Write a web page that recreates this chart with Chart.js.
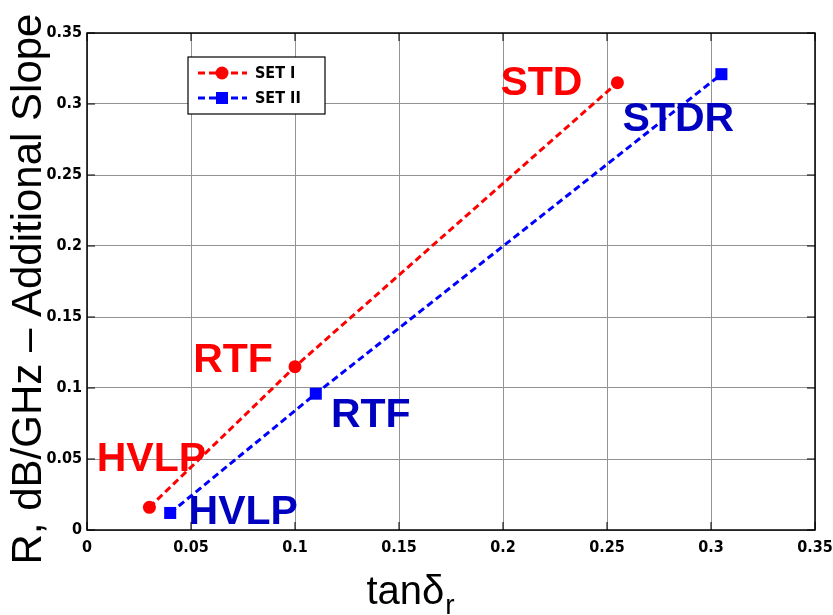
<!DOCTYPE html>
<html>
<head>
<meta charset="utf-8">
<script src="https://cdn.jsdelivr.net/npm/chart.js@4.4.1/dist/chart.umd.min.js"></script>
<style>
  html, body { margin: 0; padding: 0; background: #fff; }
  #wrap { width: 833px; height: 615px; }
</style>
</head>
<body>
<div id="wrap"><canvas id="slopeChart" width="833" height="615"></canvas></div>
<script>
// loss tangent vs additional slope, two copper sets
var set1Names = ['HVLP', 'RTF', 'STD'];
var set1Tan   = [0.03, 0.10, 0.255];
var set1Slope = [0.016, 0.115, 0.315];

var set2Names = ['HVLP', 'RTF', 'STDR'];
var set2Tan   = [0.04, 0.11, 0.305];
var set2Slope = [0.012, 0.096, 0.321];

var xTicks = [0, 0.05, 0.1, 0.15, 0.2, 0.25, 0.3, 0.35];
var yTicks = [0, 0.05, 0.1, 0.15, 0.2, 0.25, 0.3, 0.35];

var RED = '#ff0000';
var BLUE = '#0000ff';
var tickFont = "'Liberation Sans Narrow', 'DejaVu Sans Condensed', sans-serif";

function toPoints(xs, ys) {
    var pts = [];
    for (var i = 0; i < xs.length; i++) pts.push({x: xs[i], y: ys[i]});
    return pts;
}

function fmt(v) { return String(+v.toFixed(2)); }

// where each name sits, relative to its marker (text centre, px)
var nameOffsets = [
    [[2, -48], [-62, -6], [-76, 1]],
    [[73, 0], [55, 22], [-43, 46]]
];
var nameColors = ['#ff0000', '#0000c0'];

var pointNames = {
    id: 'pointNames',
    afterDatasetsDraw: function(chart) {
        var ctx = chart.ctx;
        var lists = [set1Names, set2Names];
        ctx.save();
        ctx.font = "bold 41px 'Liberation Sans', Arial, sans-serif";
        ctx.textBaseline = 'middle';
        ctx.textAlign = 'center';
        for (var d = 0; d < 2; d++) {
            var meta = chart.getDatasetMeta(d);
            ctx.fillStyle = nameColors[d];
            for (var i = 0; i < meta.data.length; i++) {
                var p = meta.data[i];
                ctx.fillText(lists[d][i], p.x + nameOffsets[d][i][0], p.y + nameOffsets[d][i][1]);
            }
        }
        ctx.restore();
    }
};

// frame, inward ticks, legend box and axis titles
var frameAndLegend = {
    id: 'frameAndLegend',
    afterDraw: function(chart) {
        var ctx = chart.ctx;
        var a = chart.chartArea;
        var xs = chart.scales.x, ys = chart.scales.y;
        ctx.save();

        ctx.strokeStyle = '#000';
        ctx.lineWidth = 1.5;
        ctx.strokeRect(a.left, a.top, a.right - a.left, a.bottom - a.top);

        ctx.lineWidth = 1;
        ctx.beginPath();
        xTicks.forEach(function(t) {
            var px = xs.getPixelForValue(t);
            ctx.moveTo(px, a.bottom); ctx.lineTo(px, a.bottom - 8);
            ctx.moveTo(px, a.top); ctx.lineTo(px, a.top + 8);
        });
        yTicks.forEach(function(t) {
            var py = ys.getPixelForValue(t);
            ctx.moveTo(a.left, py); ctx.lineTo(a.left + 8, py);
            ctx.moveTo(a.right, py); ctx.lineTo(a.right - 8, py);
        });
        ctx.stroke();

        // legend
        var lx = 188, ly = 57, lw = 137, lh = 57;
        ctx.fillStyle = '#fff';
        ctx.fillRect(lx, ly, lw, lh);
        ctx.strokeStyle = '#000';
        ctx.lineWidth = 1.2;
        ctx.strokeRect(lx, ly, lw, lh);

        var entries = [
            {label: 'SET I', color: RED, style: 'circle', y: ly + 16},
            {label: 'SET II', color: BLUE, style: 'rect', y: ly + 41}
        ];
        entries.forEach(function(e) {
            ctx.strokeStyle = e.color;
            ctx.lineWidth = 3;
            ctx.setLineDash([7, 4]);
            ctx.beginPath();
            ctx.moveTo(lx + 10, e.y);
            ctx.lineTo(lx + 59, e.y);
            ctx.stroke();
            ctx.setLineDash([]);
            ctx.fillStyle = e.color;
            Chart.helpers.drawPoint(ctx, {pointStyle: e.style, radius: e.style === 'rect' ? 8.5 : 6.5, borderWidth: 0}, lx + 34, e.y);
            ctx.fillStyle = '#000';
            ctx.font = 'bold 16px ' + tickFont;
            ctx.textBaseline = 'middle';
            ctx.textAlign = 'left';
            ctx.fillText(e.label, lx + 67, e.y + 1);
        });

        // y title
        ctx.fillStyle = '#000';
        ctx.font = "42px 'Liberation Sans', Arial, sans-serif";
        ctx.textAlign = 'center';
        ctx.textBaseline = 'middle';
        ctx.save();
        ctx.translate(29, 289);
        ctx.rotate(-Math.PI / 2);
        ctx.fillText('R, dB/GHz \u2013 Additional Slope', 0, 0);
        ctx.restore();

        // x title with subscript
        ctx.textAlign = 'left';
        ctx.textBaseline = 'alphabetic';
        ctx.font = "40px 'Liberation Sans', Arial, sans-serif";
        var main = 'tan\u03b4';
        var mw = ctx.measureText(main).width;
        ctx.font = "28px 'Liberation Sans', Arial, sans-serif";
        var sw = ctx.measureText('r').width;
        var sx = 410 - (mw + sw) / 2;
        ctx.font = "40px 'Liberation Sans', Arial, sans-serif";
        ctx.fillText(main, sx, 604);
        ctx.font = "28px 'Liberation Sans', Arial, sans-serif";
        ctx.fillText('r', sx + mw + 1, 614);

        ctx.restore();
    }
};

var chart = new Chart(document.getElementById('slopeChart'), {
    type: 'line',
    data: {
        datasets: [{
            label: 'SET I',
            data: toPoints(set1Tan, set1Slope),
            borderColor: RED,
            backgroundColor: RED,
            borderWidth: 3,
            borderDash: [7, 4],
            pointStyle: 'circle',
            pointRadius: 6.5,
            pointBorderWidth: 0,
            tension: 0
        }, {
            label: 'SET II',
            data: toPoints(set2Tan, set2Slope),
            borderColor: BLUE,
            backgroundColor: BLUE,
            borderWidth: 3,
            borderDash: [7, 4],
            pointStyle: 'rect',
            pointRadius: 8.5,
            pointBorderWidth: 0,
            tension: 0
        }]
    },
    options: {
        responsive: false,
        animation: false,
        layout: { padding: { top: 33, right: 18, left: 0, bottom: 0 } },
        plugins: {
            legend: { display: false },
            tooltip: { enabled: false }
        },
        scales: {
            x: {
                type: 'linear',
                min: 0, max: 0.35,
                afterBuildTicks: function(s) { s.ticks = xTicks.map(function(v) { return {value: v}; }); },
                afterFit: function(s) { s.height = 85; s.paddingLeft = 0; s.paddingRight = 0; },
                grid: { color: '#939393', lineWidth: 1, drawTicks: false },
                border: { display: false },
                ticks: {
                    padding: 8,
                    color: '#000',
                    maxRotation: 0,
                    font: { family: tickFont, size: 16, weight: 'bold' },
                    callback: fmt
                }
            },
            y: {
                type: 'linear',
                min: 0, max: 0.35,
                afterBuildTicks: function(s) { s.ticks = yTicks.map(function(v) { return {value: v}; }); },
                afterFit: function(s) { s.width = 87; s.paddingTop = 0; s.paddingBottom = 0; },
                grid: { color: '#939393', lineWidth: 1, drawTicks: false },
                border: { display: false },
                ticks: {
                    padding: 5,
                    color: '#000',
                    font: { family: tickFont, size: 16, weight: 'bold' },
                    callback: fmt
                }
            }
        }
    },
    plugins: [pointNames, frameAndLegend]
});
</script>
</body>
</html>
